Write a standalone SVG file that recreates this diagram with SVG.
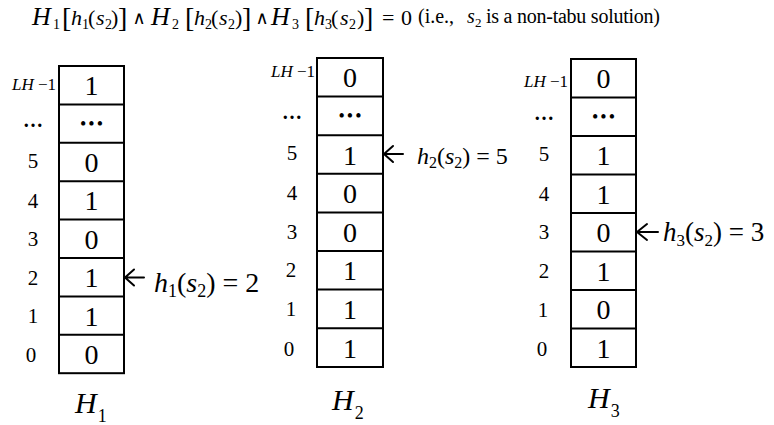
<svg xmlns="http://www.w3.org/2000/svg" width="774" height="425" viewBox="0 0 774 425">
<style>
text { font-family: "Liberation Serif", "DejaVu Serif", serif; fill: #000; }
.box { fill: #fff; stroke: #000; stroke-width: 2; }
.sep { stroke: #000; stroke-width: 2; }
.val { font-size: 28px; text-anchor: middle; }
.dots { font-size: 18px; text-anchor: middle; letter-spacing: 2px; }
.idx { font-size: 21px; text-anchor: middle; }
.idot { font-size: 20px; text-anchor: middle; font-weight: bold; }
.lh { font-size: 17px; text-anchor: end; }
.it { font-style: italic; }
.arrow { fill: none; stroke: #000; stroke-width: 2; stroke-linecap: round; stroke-linejoin: round; }
.name { font-size: 30px; }
</style>
<rect width="774" height="425" fill="#fff"/>

<g id="formula">
<text font-size="22">
<tspan x="32" y="25" class="it" font-size="26">H</tspan><tspan x="53" y="29" font-size="14">1</tspan><tspan x="62" y="27" font-size="28">[</tspan><tspan x="71" y="25" class="it">h</tspan><tspan x="82" y="29" font-size="14">1</tspan><tspan x="88" y="25">(</tspan><tspan x="96" y="25" class="it">s</tspan><tspan x="105" y="29" font-size="14">2</tspan><tspan x="111" y="25">)</tspan><tspan x="118" y="27" font-size="28">]</tspan><tspan x="139" y="24" font-size="18" text-anchor="middle">∧</tspan><tspan x="151" y="25" class="it" font-size="26">H</tspan><tspan x="172" y="29" font-size="14">2</tspan><tspan x="185" y="27" font-size="28">[</tspan><tspan x="194" y="25" class="it">h</tspan><tspan x="205" y="29" font-size="14">2</tspan><tspan x="211" y="25">(</tspan><tspan x="219" y="25" class="it">s</tspan><tspan x="228" y="29" font-size="14">2</tspan><tspan x="235" y="25">)</tspan><tspan x="242" y="27" font-size="28">]</tspan><tspan x="262" y="24" font-size="18" text-anchor="middle">∧</tspan><tspan x="271" y="25" class="it" font-size="26">H</tspan><tspan x="292" y="29" font-size="14">3</tspan><tspan x="305" y="27" font-size="28">[</tspan><tspan x="314" y="25" class="it">h</tspan><tspan x="325" y="29" font-size="14">3</tspan><tspan x="331" y="25">(</tspan><tspan x="340" y="25" class="it">s</tspan><tspan x="349" y="29" font-size="14">2</tspan><tspan x="357" y="25">)</tspan><tspan x="364" y="27" font-size="28">]</tspan><tspan x="382" y="25">=</tspan><tspan x="401" y="25">0</tspan>
</text>
<text font-size="20"><tspan x="418" y="23">(i.e.,</tspan><tspan x="467" y="23" class="it">s</tspan><tspan x="475" y="27" font-size="13">2</tspan><tspan x="486" y="23" textLength="174" lengthAdjust="spacing">is a non-tabu solution)</tspan></text>
</g>

<g id="H1">
<rect class="box" x="59" y="66" width="65" height="307.2"/>
<line class="sep" x1="59" y1="104.4" x2="124" y2="104.4"/>
<line class="sep" x1="59" y1="142.8" x2="124" y2="142.8"/>
<line class="sep" x1="59" y1="181.2" x2="124" y2="181.2"/>
<line class="sep" x1="59" y1="219.6" x2="124" y2="219.6"/>
<line class="sep" x1="59" y1="258" x2="124" y2="258"/>
<line class="sep" x1="59" y1="296.4" x2="124" y2="296.4"/>
<line class="sep" x1="59" y1="334.8" x2="124" y2="334.8"/>
<text class="val" x="91.5" y="95">1</text>
<text class="dots" x="92.5" y="130">•••</text>
<text class="val" x="91.5" y="172">0</text>
<text class="val" x="91.5" y="210.4">1</text>
<text class="val" x="91.5" y="248.8">0</text>
<text class="val" x="91.5" y="287.2">1</text>
<text class="val" x="91.5" y="325.6">1</text>
<text class="val" x="91.5" y="364">0</text>
<text class="lh" x="56" y="90"><tspan class="it">LH</tspan> −1</text>
<text class="idot" x="33" y="127">…</text>
<text class="idx" x="33" y="168">5</text>
<text class="idx" x="33" y="207.5">4</text>
<text class="idx" x="33" y="246">3</text>
<text class="idx" x="33" y="284.5">2</text>
<text class="idx" x="33" y="323">1</text>
<text class="idx" x="31" y="362">0</text>
<text class="name" x="75" y="413"><tspan class="it">H</tspan><tspan dx="1" dy="9" font-size="18">1</tspan></text>
</g>

<g id="H2">
<rect class="box" x="317" y="58" width="66" height="309"/>
<line class="sep" x1="317" y1="96.6" x2="383" y2="96.6"/>
<line class="sep" x1="317" y1="135.2" x2="383" y2="135.2"/>
<line class="sep" x1="317" y1="173.8" x2="383" y2="173.8"/>
<line class="sep" x1="317" y1="212.4" x2="383" y2="212.4"/>
<line class="sep" x1="317" y1="251" x2="383" y2="251"/>
<line class="sep" x1="317" y1="289.6" x2="383" y2="289.6"/>
<line class="sep" x1="317" y1="328.2" x2="383" y2="328.2"/>
<text class="val" x="350" y="87.3">0</text>
<text class="dots" x="351" y="122">•••</text>
<text class="val" x="350" y="164.5">1</text>
<text class="val" x="350" y="203.1">0</text>
<text class="val" x="350" y="241.7">0</text>
<text class="val" x="350" y="280.3">1</text>
<text class="val" x="350" y="318.9">1</text>
<text class="val" x="350" y="357.5">1</text>
<text class="lh" x="315" y="77"><tspan class="it">LH</tspan> −1</text>
<text class="idot" x="292" y="119">…</text>
<text class="idx" x="292" y="160">5</text>
<text class="idx" x="292" y="200">4</text>
<text class="idx" x="292" y="238.7">3</text>
<text class="idx" x="291" y="277.3">2</text>
<text class="idx" x="291" y="315.9">1</text>
<text class="idx" x="289" y="356">0</text>
<text class="name" x="332" y="410"><tspan class="it">H</tspan><tspan dx="1" dy="9" font-size="18">2</tspan></text>
</g>

<g id="H3">
<rect class="box" x="571" y="59" width="65" height="308"/>
<line class="sep" x1="571" y1="97.5" x2="636" y2="97.5"/>
<line class="sep" x1="571" y1="136" x2="636" y2="136"/>
<line class="sep" x1="571" y1="174.5" x2="636" y2="174.5"/>
<line class="sep" x1="571" y1="213" x2="636" y2="213"/>
<line class="sep" x1="571" y1="251.5" x2="636" y2="251.5"/>
<line class="sep" x1="571" y1="290" x2="636" y2="290"/>
<line class="sep" x1="571" y1="328.5" x2="636" y2="328.5"/>
<text class="val" x="603.5" y="88.3">0</text>
<text class="dots" x="604.5" y="123">•••</text>
<text class="val" x="603.5" y="165.3">1</text>
<text class="val" x="603.5" y="203.8">1</text>
<text class="val" x="603.5" y="242.3">0</text>
<text class="val" x="603.5" y="280.8">1</text>
<text class="val" x="603.5" y="319.3">0</text>
<text class="val" x="603.5" y="357.8">1</text>
<text class="lh" x="568" y="87"><tspan class="it">LH</tspan> −1</text>
<text class="idot" x="544" y="120">…</text>
<text class="idx" x="544" y="161">5</text>
<text class="idx" x="544" y="200.5">4</text>
<text class="idx" x="544" y="239">3</text>
<text class="idx" x="544" y="278">2</text>
<text class="idx" x="543" y="316.5">1</text>
<text class="idx" x="542" y="356">0</text>
<text class="name" x="588" y="408"><tspan class="it">H</tspan><tspan dx="1" dy="9" font-size="18">3</tspan></text>
</g>

<g id="connectors">
<path class="arrow" d="M125,277.5 H144 M134,269.5 L125,277.5 L134,285.5"/>
<path class="arrow" d="M384,154 H403 M393,146 L384,154 L393,162"/>
<path class="arrow" d="M637,232 H658 M647,224 L637,232 L647,240"/>
</g>

<g id="labels">
<text font-size="28" x="154" y="292"><tspan class="it">h</tspan><tspan font-size="18" dy="5">1</tspan><tspan dy="-5">(</tspan><tspan class="it">s</tspan><tspan font-size="18" dy="5">2</tspan><tspan dy="-5">) = 2</tspan></text>
<text font-size="24" x="417" y="164"><tspan class="it">h</tspan><tspan font-size="16" dy="4">2</tspan><tspan dy="-4">(</tspan><tspan class="it">s</tspan><tspan font-size="16" dy="4">2</tspan><tspan dy="-4">) = 5</tspan></text>
<text font-size="27" x="663" y="241"><tspan class="it">h</tspan><tspan font-size="17" dy="5">3</tspan><tspan dy="-5">(</tspan><tspan class="it">s</tspan><tspan font-size="17" dy="5">2</tspan><tspan dy="-5">) = 3</tspan></text>
</g>
</svg>
